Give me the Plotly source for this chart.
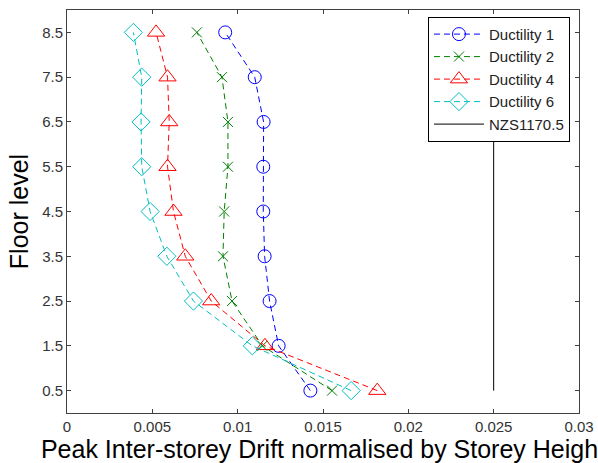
import plotly.graph_objects as go

floors = [0.5, 1.5, 2.5, 3.5, 4.5, 5.5, 6.5, 7.5, 8.5]
duct1 = [0.01426, 0.01240, 0.01187, 0.01158, 0.01150, 0.01150, 0.01152, 0.01100, 0.00927]
duct2 = [0.01553, 0.01145, 0.00967, 0.00914, 0.00921, 0.00943, 0.00943, 0.00908, 0.00761]
duct4 = [0.01818, 0.01160, 0.00845, 0.00693, 0.00624, 0.00589, 0.00599, 0.00589, 0.00522]
duct6 = [0.01665, 0.01086, 0.00741, 0.00585, 0.00487, 0.00438, 0.00434, 0.00438, 0.00389]
nzs_x = [0.025, 0.025]
nzs_y = [0.5, 8.5]

x_ticks = [0, 0.005, 0.01, 0.015, 0.02, 0.025, 0.03]
x_ticklabels = ["0", "0.005", "0.01", "0.015", "0.02", "0.025", "0.03"]
y_ticks = floors
y_ticklabels = ["0.5", "1.5", "2.5", "3.5", "4.5", "5.5", "6.5", "7.5", "8.5"]

series = [
    ("Ductility 1", duct1, "#0000FF", "circle-open", 13),
    ("Ductility 2", duct2, "#008000", "x-thin-open", 10),
    ("Ductility 4", duct4, "#FF0000", "triangle-up-open", 15),
    ("Ductility 6", duct6, "#00BFBF", "diamond-open", 14),
]

FONT = "Liberation Sans, Arial, sans-serif"

fig = go.Figure()
for name, vals, col, sym, sz in series:
    fig.add_trace(go.Scatter(
        x=vals, y=floors, name=name, mode="lines+markers",
        line=dict(color=col, width=1, dash="6px,4px"),
        marker=dict(symbol=sym, size=sz, color=col, line=dict(color=col, width=1)),
    ))
fig.add_trace(go.Scatter(
    x=nzs_x, y=nzs_y, name="NZS1170.5", mode="lines",
    line=dict(color="black", width=1),
))

axis_common = dict(
    showgrid=False, zeroline=False, showline=True, linecolor="#404040", linewidth=1,
    mirror="ticks", ticks="inside", ticklen=4, tickcolor="#404040",
    tickfont=dict(family=FONT, size=15, color="#333333"), automargin=False,
)

fig.update_layout(
    width=598, height=463,
    margin=dict(l=67, r=19, t=10, b=50),
    plot_bgcolor="white", paper_bgcolor="white",
    font=dict(family=FONT),
    xaxis=dict(range=[0, 0.03], tickvals=x_ticks, ticktext=x_ticklabels,
               title=dict(text="Peak Inter-storey Drift normalised by Storey Height",
                          font=dict(size=25, color="black"), standoff=2),
               **axis_common),
    yaxis=dict(range=[0, 9], tickvals=y_ticks, ticktext=y_ticklabels,
               title=dict(text="Floor level", font=dict(size=25, color="black"), standoff=6),
               **axis_common),
    legend=dict(x=0.705, y=0.983, xanchor="left", yanchor="top",
                bgcolor="white", bordercolor="black", borderwidth=1,
                font=dict(family=FONT, size=15, color="#222222"), tracegroupgap=0,
                itemwidth=50),
    showlegend=True,
)

fig.write_html("out.html")
